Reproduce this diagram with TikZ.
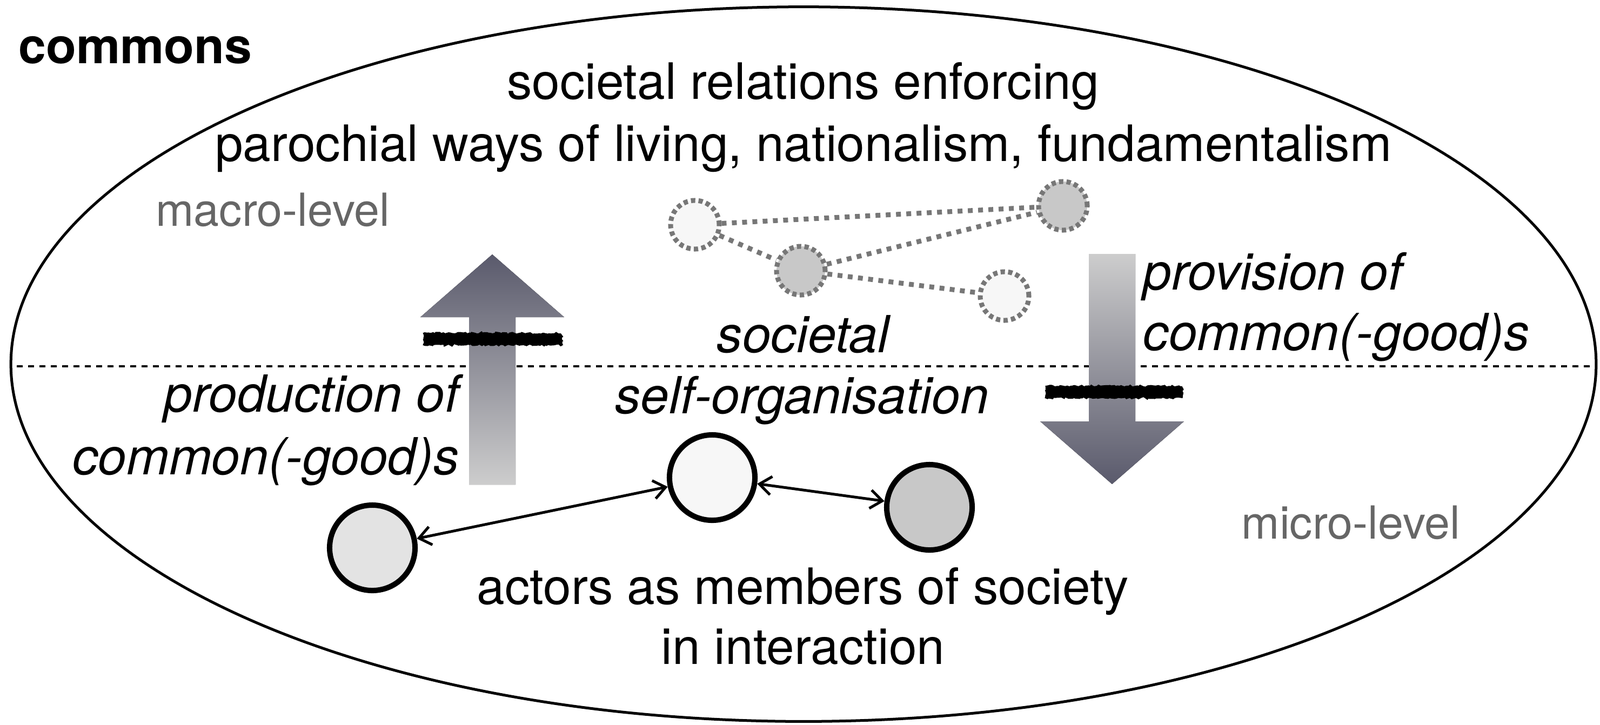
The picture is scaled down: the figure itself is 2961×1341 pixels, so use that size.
\documentclass[tikz,border=0pt]{standalone}
\usepackage{fontspec}
\setmainfont{TeX Gyre Heros}
\usepackage{tikz}
\usetikzlibrary{arrows.meta,decorations.pathmorphing,positioning}

\definecolor{lightfill}{HTML}{F7F7F7}
\definecolor{midfill}{HTML}{E3E3E3}
\definecolor{darkfill}{HTML}{C8C8C8}
\definecolor{dotgray}{HTML}{777777}
\definecolor{arrowdark}{HTML}{5A5A6C}
\definecolor{arrowlight}{HTML}{CDCDCD}

\begin{document}
\begin{tikzpicture}[
    x=0.01cm, y=-0.01cm,
    txt/.style={inner sep=0pt, font=\fontsize{26.4}{31}\selectfont},
    itxt/.style={inner sep=0pt, font=\fontsize{26.9}{31}\selectfont\itshape},
    leveltxt/.style={inner sep=0pt, font=\fontsize{24}{29}\selectfont, text=black!60},
    actor/.style={circle, draw, line width=0.1cm, minimum size=1.58cm, inner sep=0pt},
    ghost/.style={circle, draw=dotgray, line width=0.09cm, dash pattern=on 0.08cm off 0.06cm, minimum size=0.9cm, inner sep=0pt},
    link/.style={draw=dotgray, line width=0.09cm, dash pattern=on 0.09cm off 0.1cm},
    arrow/.style={{Straight Barb[length=0.22cm,width=0.34cm]}-{Straight Barb[length=0.22cm,width=0.34cm]}, line width=0.05cm},
    scratch/.style={line width=0.08cm, decorate, decoration={random steps, segment length=1pt, amplitude=0.5pt}}
]
\useasboundingbox (0,0) rectangle (2961,1341);

% Frame
\draw[line width=0.05cm] (1487,674) ellipse [x radius=14.66cm, y radius=6.61cm];
\draw[line width=0.04cm, dash pattern=on 0.11cm off 0.1cm] (31,678) -- (2945,678);

% Block arrows
\fill[top color=arrowdark, bottom color=arrowlight]
    (868,897) -- (868,587) -- (778,587) -- (911,471) -- (1044,587) -- (954,587) -- (954,897) -- cycle;
\fill[top color=arrowlight, bottom color=arrowdark]
    (2015,470) -- (2015,780) -- (1925,780) -- (2058,896) -- (2191,780) -- (2101,780) -- (2101,470) -- cycle;
\foreach \dy in {-7,-3,1,5,8} {
    \draw[scratch] (784,627+\dy) -- (1040,627+\dy);
    \draw[scratch] (1935,725+\dy) -- (2189,725+\dy);
}

% Nodes
\node[txt, font=\fontsize{26}{31}\selectfont\bfseries, anchor=base west] (title) at (34,117) {commons};
\node[txt, anchor=base] (T1) at (1486,183) {societal relations enforcing};
\node[txt, anchor=base] (T2) at (1487,298) {parochial ways of living, nationalism, fundamentalism};
\node[leveltxt, anchor=base] (macro) at (505,418) {macro-level};
\node[leveltxt, anchor=base] (micro) at (2500,997) {micro-level};
\node[itxt, anchor=base] (S1) at (1486,652) {societal};
\node[itxt, anchor=base] (S2) at (1484,765) {self-organisation};
\node[itxt, anchor=base east] (P1) at (850,762) {production of};
\node[itxt, anchor=base east] (P2) at (850,878) {common(-good)s};
\node[itxt, anchor=base west] (V1) at (2115,536) {provision of};
\node[itxt, anchor=base west] (V2) at (2115,648) {common(-good)s};
\node[txt, anchor=base] (M1) at (1486,1118) {actors as members of society};
\node[txt, anchor=base] (M2) at (1486,1229) {in interaction};

\node[ghost, fill=lightfill] (R1) at (1286,416) {};
\node[ghost, fill=darkfill] (R2) at (1482,501) {};
\node[ghost, fill=darkfill] (R3) at (1967,381) {};
\node[ghost, fill=lightfill] (R4) at (1859,548) {};

\node[actor, fill=midfill] (A1) at (689,1014) {};
\node[actor, fill=lightfill] (A2) at (1318,884) {};
\node[actor, fill=darkfill] (A3) at (1720,939) {};

% Arrows
\draw[link] (R1) -- (R3);
\draw[link] (R1) -- (R2);
\draw[link] (R2) -- (R3);
\draw[link] (R2) -- (R4);
\draw[arrow] (A1) -- (A2);
\draw[arrow] (A2) -- (A3);

\end{tikzpicture}
\end{document}
